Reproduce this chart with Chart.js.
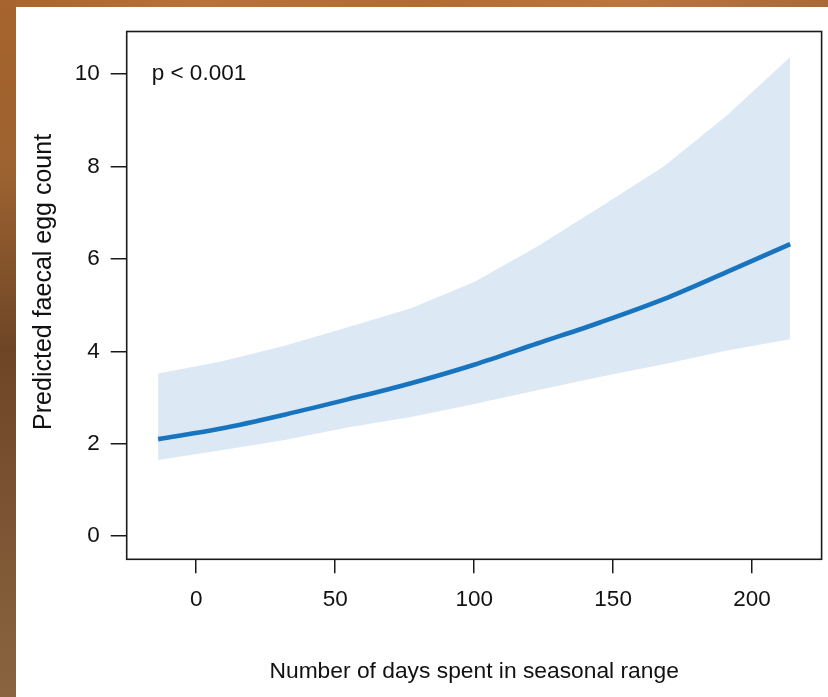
<!DOCTYPE html>
<html>
<head>
<meta charset="utf-8">
<script src="https://cdn.jsdelivr.net/npm/chart.js@4/dist/chart.umd.min.js"></script>
<style>
  html, body { margin: 0; padding: 0; }
  body { width: 828px; height: 697px; position: relative; overflow: hidden; background: #ffffff; }
  #topWood { position: absolute; left: 0; top: 0; width: 828px; height: 7px;
    background: linear-gradient(90deg, #a7642d 0%, #b8733a 25%, #b26c32 50%, #bb7640 75%, #a9693a 100%); }
  #leftWood { position: absolute; left: 0; top: 0; width: 16px; height: 697px;
    background: linear-gradient(180deg, #a7642d 0%, #9c6230 25%, #6e4626 50%, #7a5232 70%, #8a6440 100%); }
  #wrap { position: absolute; left: 16px; top: 7px; width: 812px; height: 690px; background: #ffffff; }
</style>
</head>
<body>
<div id="topWood"></div>
<div id="leftWood"></div>
<div id="wrap"><canvas id="c" width="812" height="690"></canvas></div>
<script>
// ---- data ----
const days      = [-13.7, 9.0, 31.8, 54.5, 77.3, 100.0, 122.7, 145.5, 168.2, 191.0, 213.7];
const predicted = [2.10, 2.33, 2.63, 2.96, 3.31, 3.71, 4.17, 4.63, 5.13, 5.72, 6.32];
const upperCI   = [3.52, 3.78, 4.12, 4.52, 4.93, 5.50, 6.27, 7.13, 8.00, 9.11, 10.37];
const lowerCI   = [1.65, 1.86, 2.08, 2.35, 2.58, 2.86, 3.16, 3.45, 3.72, 4.02, 4.26];
const xTickValues = [0, 50, 100, 150, 200];
const yTickValues = [0, 2, 4, 6, 8, 10];
const xTitle = "Number of days spent in seasonal range";
const yTitle = "Predicted faecal egg count";
const annotationText = "p < 0.001";
const annotationX = -16;
const annotationY = 10;

const FONT = "'Liberation Sans', Arial, Helvetica, sans-serif";
const toPts = (ys) => days.map((d, i) => ({ x: d, y: ys[i] }));

const boxPlugin = {
  id: 'boxAndText',
  afterDraw(chart) {
    const { ctx, chartArea: a, scales } = chart;
    ctx.save();
    ctx.strokeStyle = '#1a1a1a';
    ctx.lineWidth = 1.6;
    ctx.strokeRect(a.left, a.top, a.right - a.left, a.bottom - a.top);
    ctx.fillStyle = '#111111';
    ctx.font = '22.5px ' + FONT;
    ctx.textAlign = 'left';
    ctx.textBaseline = 'middle';
    ctx.fillText(annotationText, scales.x.getPixelForValue(annotationX), scales.y.getPixelForValue(annotationY));
    // y axis title (rotated), centred slightly above the plot centre as in the reference
    ctx.save();
    ctx.translate(28.5, (a.top + a.bottom) / 2 - 13.5);
    ctx.rotate(-Math.PI / 2);
    ctx.font = '25px ' + FONT;
    ctx.textAlign = 'center';
    ctx.textBaseline = 'middle';
    ctx.fillText(yTitle, 0, 0);
    ctx.restore();
    ctx.restore();
  }
};

new Chart(document.getElementById('c'), {
  type: 'line',
  data: {
    datasets: [
      { label: 'fit', data: toPts(predicted), borderColor: '#1874be', borderWidth: 4.6,
        pointRadius: 0, fill: false, cubicInterpolationMode: 'monotone', borderCapStyle: 'butt' },
      { label: 'upper', data: toPts(upperCI), borderWidth: 0, borderColor: 'rgba(0,0,0,0)',
        pointRadius: 0, fill: '+1', backgroundColor: '#dce9f4', tension: 0 },
      { label: 'lower', data: toPts(lowerCI), borderWidth: 0, borderColor: 'rgba(0,0,0,0)',
        pointRadius: 0, fill: false, tension: 0 }
    ]
  },
  options: {
    responsive: false,
    animation: false,
    devicePixelRatio: 1,
    layout: { padding: { left: 0, top: 22.5, right: 6.4, bottom: 0 } },
    plugins: { legend: { display: false }, tooltip: { enabled: false } },
    scales: {
      x: {
        type: 'linear', min: -25, max: 225,
        afterBuildTicks: (s) => { s.ticks = xTickValues.map(v => ({ value: v })); },
        afterFit: (s) => { s.height = 137.7; },
        grid: { drawOnChartArea: false, drawTicks: true, tickLength: 14, color: '#1a1a1a', lineWidth: 1.5 },
        border: { display: false },
        ticks: { color: '#111111', font: { family: FONT, size: 22.5 }, padding: 13, maxRotation: 0 },
        title: { display: true, text: xTitle, color: '#111111', font: { family: FONT, size: 22.8 },
                 padding: { top: 0, bottom: 12 } }
      },
      y: {
        type: 'linear', min: -0.5, max: 10.92,
        afterBuildTicks: (s) => { s.ticks = yTickValues.map(v => ({ value: v })); },
        afterFit: (s) => { s.width = 110.7; },
        grid: { drawOnChartArea: false, drawTicks: true, tickLength: 16, color: '#1a1a1a', lineWidth: 1.5 },
        border: { display: false },
        ticks: { color: '#111111', font: { family: FONT, size: 22.5 }, padding: 11 },
        title: { display: false }
      }
    }
  },
  plugins: [boxPlugin]
});
</script>
</body>
</html>
